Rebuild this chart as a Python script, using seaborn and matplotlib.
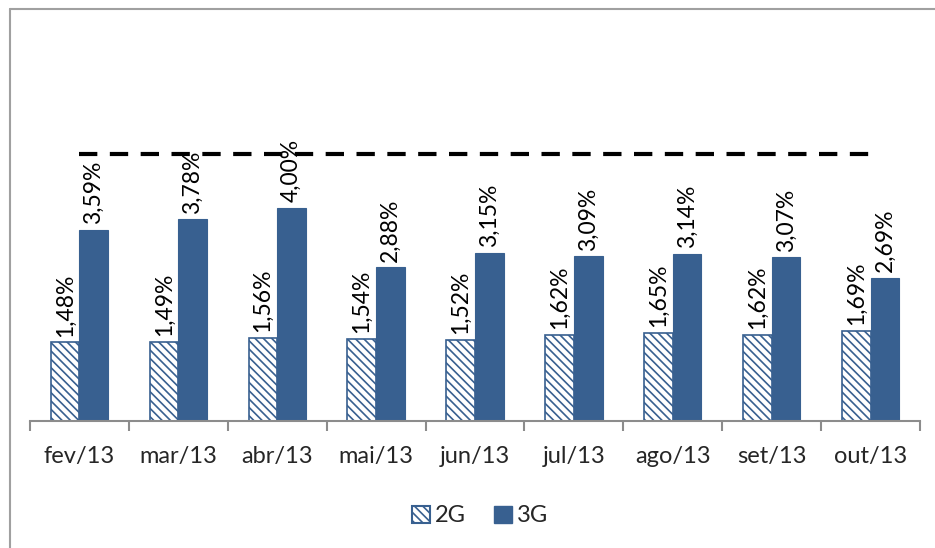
import numpy as np
import pandas as pd
import seaborn as sns
from matplotlib import pyplot as plt
from matplotlib.lines import Line2D
from matplotlib.patches import Patch

months = ["fev/13", "mar/13", "abr/13", "mai/13", "jun/13",
          "jul/13", "ago/13", "set/13", "out/13"]
taxa_2g = [1.48, 1.49, 1.56, 1.54, 1.52, 1.62, 1.65, 1.62, 1.69]
taxa_3g = [3.59, 3.78, 4.00, 2.88, 3.15, 3.09, 3.14, 3.07, 2.69]
meta = [5.0, 5.0, 5.0, 5.0, 5.0, 5.0, 5.0, 5.0, 5.0]
series = ["2G", "3G"]

blue = "#386090"

df = pd.DataFrame({
    "mes": months * 2,
    "taxa": taxa_2g + taxa_3g,
    "rede": ["2G"] * len(months) + ["3G"] * len(months),
})

sns.set_theme(style="white")
plt.rcParams["font.family"] = ["Lato", "DejaVu Sans"]
plt.rcParams["hatch.color"] = blue
plt.rcParams["hatch.linewidth"] = 1.2

fig = plt.figure(figsize=(9.35, 5.48), dpi=100)
ax = fig.add_axes([30 / 935, 1 - 421 / 548, 890 / 935, 320 / 548])

sns.barplot(data=df, x="mes", y="taxa", hue="rede", order=months,
            hue_order=series, palette=[blue, blue], width=0.58,
            saturation=1, ax=ax, legend=False)

hatch = "\\\\\\\\"
for bar in ax.containers[0]:
    bar.set_facecolor("white")
    bar.set_edgecolor(blue)
    bar.set_hatch(hatch)
    bar.set_linewidth(1.2)
for bar in ax.containers[1]:
    bar.set_edgecolor(blue)
    bar.set_linewidth(0.8)

for cont in ax.containers:
    ax.bar_label(cont, labels=[f"{v:.2f}%".replace(".", ",") for v in cont.datavalues],
                 rotation=90, padding=4, fontsize=16.5, color="black")

ax.plot(np.arange(len(months)), meta, color="black", linewidth=3,
        linestyle=(0, (4.4, 3)), dash_capstyle="butt")

ax.set_ylim(0, 6)
ax.set_xlim(-0.5, len(months) - 0.5)
ax.set_xlabel("")
ax.set_ylabel("")
ax.set_yticks([])
for side in ["top", "right", "left"]:
    ax.spines[side].set_visible(False)
ax.spines["bottom"].set_color("#8c8c8c")
ax.spines["bottom"].set_linewidth(1.5)

ax.set_xticks(np.arange(-0.5, len(months)), minor=True)
ax.tick_params(axis="x", which="minor", bottom=True, length=7, width=1.5,
               color="#8c8c8c")
ax.tick_params(axis="x", which="major", bottom=False, length=0, pad=18,
               labelsize=17)

handles = [Patch(facecolor="white", edgecolor=blue, hatch=hatch, linewidth=1.5),
           Patch(facecolor=blue, edgecolor=blue)]
fig.legend(handles, series, loc="center", bbox_to_anchor=(480 / 935, 1 - 516 / 548),
           ncol=2, frameon=False, fontsize=17, handlelength=0.75, handleheight=0.75,
           handletextpad=0.2, columnspacing=1.2)

# moldura externa
fig.add_artist(Line2D([10 / 935, 10 / 935], [0, 1 - 9 / 548], color="#a0a0a0",
                      linewidth=1.5, transform=fig.transFigure))
fig.add_artist(Line2D([10 / 935, 1], [1 - 9 / 548, 1 - 9 / 548], color="#a0a0a0",
                      linewidth=1.5, transform=fig.transFigure))

fig.savefig("out.png", dpi=100)
